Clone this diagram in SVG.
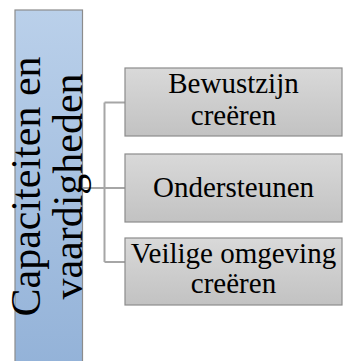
<svg xmlns="http://www.w3.org/2000/svg" width="343" height="361" viewBox="0 0 343 361">
  <defs>
    <linearGradient id="blueFill" x1="0" y1="0" x2="0" y2="1">
      <stop offset="0" stop-color="#bad0ea"/>
      <stop offset="1" stop-color="#93b2d8"/>
    </linearGradient>
    <linearGradient id="greyFill" x1="0" y1="0" x2="0" y2="1">
      <stop offset="0" stop-color="#d9d9d9"/>
      <stop offset="1" stop-color="#c2c2c2"/>
    </linearGradient>
  </defs>
  <style>
    .box { fill: url(#greyFill); stroke: #8c8c8c; stroke-width: 1.2; }
    .main { fill: url(#blueFill); stroke: #8c8c8c; stroke-width: 1.2; }
    .lbl { fill: #000; text-anchor: middle; }
    .big { font-size: 42px; }
    .small { font-size: 29px; }
    .conn { fill: none; stroke: #a6a6a6; stroke-width: 2; }
  </style>

  <!-- connectors -->
  <g id="connectors">
    <path class="conn" d="M83 188 H125"/>
    <path class="conn" d="M104.5 102.5 V262 M104.5 102.5 H125 M104.5 262 H125"/>
  </g>

  <!-- all labels use a Times-metric serif -->
  <g font-family="'Liberation Serif', 'DejaVu Serif', serif">
    <!-- main vertical label -->
    <g id="node-capaciteiten">
      <rect class="main" x="15" y="10" width="67.5" height="360"/>
      <text class="lbl big" transform="translate(40,186.5) rotate(-90)">Capaciteiten en</text>
      <text class="lbl big" transform="translate(82,186.5) rotate(-90)">vaardigheden</text>
    </g>

    <g id="node-bewustzijn">
      <rect class="box" x="125" y="68" width="217" height="68"/>
      <text class="lbl small" x="233.5" y="93">Bewustzijn</text>
      <text class="lbl small" x="233.5" y="125">creëren</text>
    </g>

    <g id="node-ondersteunen">
      <rect class="box" x="125" y="154" width="217" height="68"/>
      <text class="lbl small" x="233.5" y="197">Ondersteunen</text>
    </g>

    <g id="node-veilige">
      <rect class="box" x="125" y="238" width="217" height="67"/>
      <text class="lbl small" x="233.5" y="263">Veilige omgeving</text>
      <text class="lbl small" x="233.5" y="293">creëren</text>
    </g>
  </g>
</svg>
